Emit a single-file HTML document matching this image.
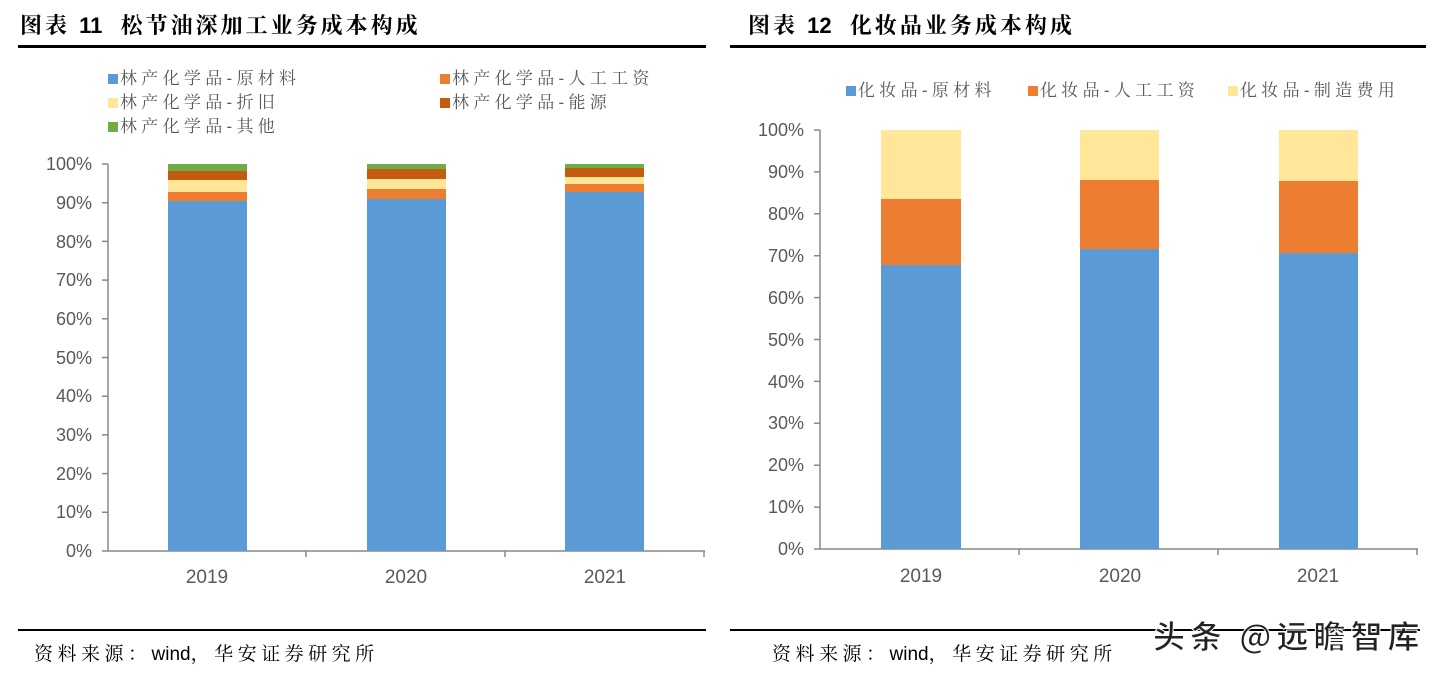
<!DOCTYPE html>
<html><head><meta charset="utf-8"><style>
body{margin:0;width:1437px;height:674px;background:#fff;position:relative;overflow:hidden;font-family:"Liberation Sans","Noto Sans CJK SC",sans-serif}
.a{position:absolute;white-space:nowrap}
.t{font-size:22px;font-weight:bold;color:#000;top:9px;letter-spacing:3px;font-family:"Liberation Sans","Noto Serif CJK SC",sans-serif}
.t b{letter-spacing:0}
.hl{height:3px;background:#000}
.lg{font-size:17px;color:#595959;letter-spacing:4.3px;font-family:"Liberation Sans","Noto Serif CJK SC",sans-serif}
.sq{display:inline-block;width:10px;height:10px;margin-right:2px}
.src{font-size:19px;color:#000;top:639px;letter-spacing:4.5px;font-family:"Liberation Sans","Noto Serif CJK SC",sans-serif}
.src span{letter-spacing:0}
</style></head><body>
<div class="a t" style="left:20px">图表 <b>11</b>&nbsp; 松节油深加工业务成本构成</div>
<div class="a t" style="left:748px">图表 <b>12</b>&nbsp; 化妆品业务成本构成</div>
<div class="a hl" style="left:18px;top:45px;width:688px"></div>
<div class="a hl" style="left:730px;top:45px;width:696px"></div>
<div class="a hl" style="left:18px;top:629px;width:688px;height:2px"></div>
<div class="a hl" style="left:730px;top:629px;width:690px;height:2px"></div>
<div class="a src" style="left:34px">资料来源：<span>wind</span>，华安证券研究所</div>
<div class="a src" style="left:772px">资料来源：<span>wind</span>，华安证券研究所</div>
<div class="a" style="left:1153px;top:612px;font-size:32px;letter-spacing:5px;color:#222;font-weight:bold;-webkit-text-stroke:1px #fff;font-family:'Noto Sans CJK SC',sans-serif">头条 @远瞻智库</div>

<div class="a lg" style="left:108px;top:64px"><span class="sq" style="background:#5B9BD5"></span>林产化学品-原材料</div>
<div class="a lg" style="left:440px;top:64px"><span class="sq" style="background:#ED7D31"></span>林产化学品-人工工资</div>
<div class="a lg" style="left:108px;top:88px"><span class="sq" style="background:#FFE699"></span>林产化学品-折旧</div>
<div class="a lg" style="left:440px;top:88px"><span class="sq" style="background:#C55A11"></span>林产化学品-能源</div>
<div class="a lg" style="left:108px;top:112px"><span class="sq" style="background:#70AD47"></span>林产化学品-其他</div>

<div class="a lg" style="left:846px;top:76px"><span class="sq" style="background:#5B9BD5"></span>化妆品-原材料</div>
<div class="a lg" style="left:1028px;top:76px"><span class="sq" style="background:#ED7D31"></span>化妆品-人工工资</div>
<div class="a lg" style="left:1228px;top:76px"><span class="sq" style="background:#FFE699"></span>化妆品-制造费用</div>

<svg class="a" style="left:0;top:0" width="1437" height="674">
<g stroke="#888" stroke-width="1.5" fill="none">
<path d="M108 164V551H705M102 551H108M102 512.3H108M102 473.6H108M102 434.9H108M102 396.2H108M102 357.5H108M102 318.8H108M102 280.1H108M102 241.4H108M102 202.7H108M102 164H108M306 551V557M505 551V557M704 551V557"/>
<path d="M820 130V549H1418M814 549H820M814 507.1H820M814 465.2H820M814 423.3H820M814 381.4H820M814 339.5H820M814 297.6H820M814 255.7H820M814 213.8H820M814 171.9H820M814 130H820M1019 549V555M1218 549V555M1417 549V555"/>
</g>
<rect x="168" y="164" width="79" height="7" fill="#70AD47"/><rect x="168" y="171" width="79" height="9" fill="#C55A11"/><rect x="168" y="180" width="79" height="12" fill="#FFE699"/><rect x="168" y="192" width="79" height="9" fill="#ED7D31"/><rect x="168" y="201" width="79" height="350" fill="#5B9BD5"/>
<rect x="367" y="164" width="79" height="5" fill="#70AD47"/><rect x="367" y="169" width="79" height="10" fill="#C55A11"/><rect x="367" y="179" width="79" height="10" fill="#FFE699"/><rect x="367" y="189" width="79" height="10" fill="#ED7D31"/><rect x="367" y="199" width="79" height="352" fill="#5B9BD5"/>
<rect x="565" y="164" width="79" height="4" fill="#70AD47"/><rect x="565" y="168" width="79" height="9" fill="#C55A11"/><rect x="565" y="177" width="79" height="7" fill="#FFE699"/><rect x="565" y="184" width="79" height="8" fill="#ED7D31"/><rect x="565" y="192" width="79" height="359" fill="#5B9BD5"/>
<rect x="881" y="130" width="80" height="69" fill="#FFE699"/><rect x="881" y="199" width="80" height="66" fill="#ED7D31"/><rect x="881" y="265" width="80" height="284" fill="#5B9BD5"/>
<rect x="1080" y="130" width="79" height="50" fill="#FFE699"/><rect x="1080" y="180" width="79" height="69" fill="#ED7D31"/><rect x="1080" y="249" width="79" height="300" fill="#5B9BD5"/>
<rect x="1279" y="130" width="79" height="51" fill="#FFE699"/><rect x="1279" y="181" width="79" height="72" fill="#ED7D31"/><rect x="1279" y="253" width="79" height="296" fill="#5B9BD5"/>
<g font-family="Liberation Sans" font-size="18" fill="#595959" text-anchor="end">
<text x="92" y="557">0%</text><text x="92" y="518">10%</text><text x="92" y="480">20%</text><text x="92" y="441">30%</text><text x="92" y="402">40%</text><text x="92" y="364">50%</text><text x="92" y="325">60%</text><text x="92" y="286">70%</text><text x="92" y="248">80%</text><text x="92" y="209">90%</text><text x="92" y="170">100%</text>
<text x="804" y="555">0%</text><text x="804" y="513">10%</text><text x="804" y="471">20%</text><text x="804" y="429">30%</text><text x="804" y="388">40%</text><text x="804" y="346">50%</text><text x="804" y="304">60%</text><text x="804" y="262">70%</text><text x="804" y="220">80%</text><text x="804" y="178">90%</text><text x="804" y="136">100%</text>
</g>
<g font-family="Liberation Sans" font-size="19" fill="#595959" text-anchor="middle">
<text x="207" y="583">2019</text><text x="406" y="583">2020</text><text x="605" y="583">2021</text>
<text x="921" y="582">2019</text><text x="1120" y="582">2020</text><text x="1318" y="582">2021</text>
</g>
</svg>
</body></html>
